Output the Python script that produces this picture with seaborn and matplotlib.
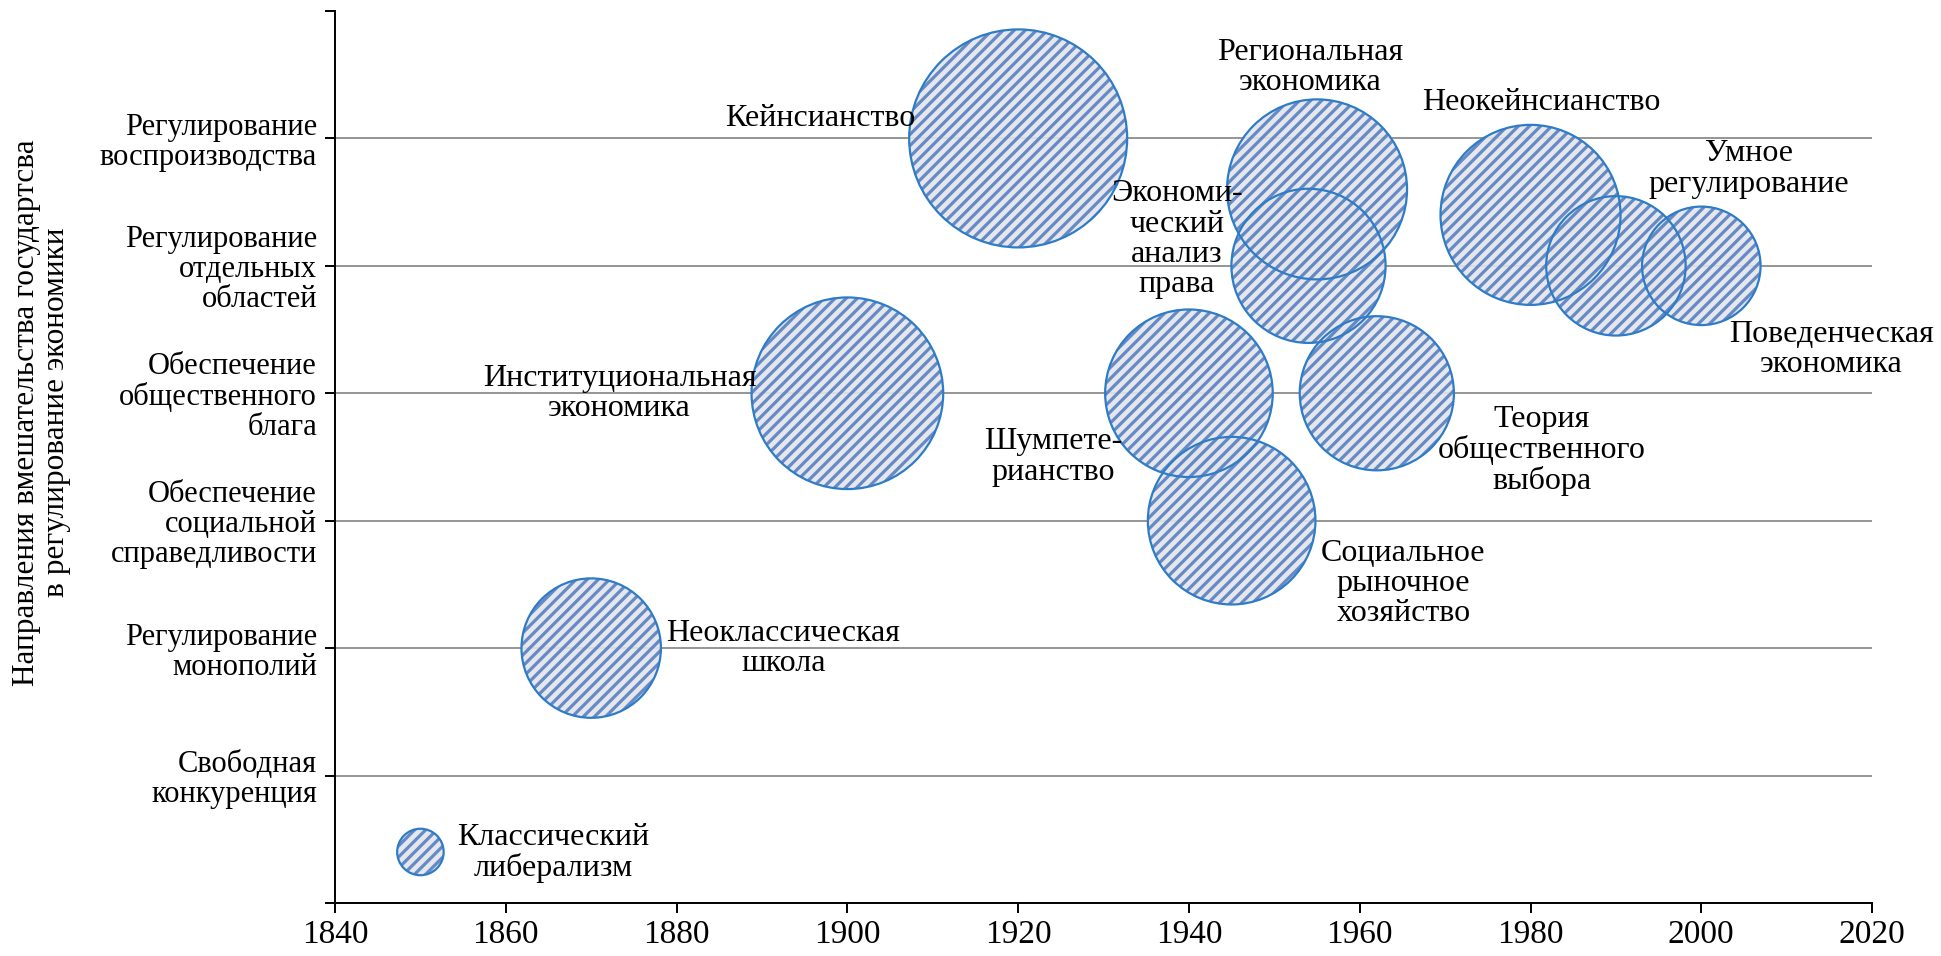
import matplotlib
matplotlib.use("Agg")
import matplotlib.pyplot as plt
import seaborn as sns
import pandas as pd

# schools of economic thought: year of origin, level of state intervention, bubble size
schools = ["Классический\nлиберализм", "Неоклассическая\nшкола", "Институциональная\nэкономика",
           "Кейнсианство", "Шумпете-\nрианство", "Социальное\nрыночное\nхозяйство",
           "Экономи-\nческий\nанализ\nправа", "Региональная\nэкономика",
           "Теория\nобщественного\nвыбора", "Неокейнсианство", "Умное\nрегулирование",
           "Поведенческая\nэкономика"]
years = [1850, 1870, 1900, 1920, 1940, 1945, 1954, 1955, 1962, 1980, 1990, 2000]
levels = [0.4, 2, 4, 6, 4, 3, 5, 5.6, 4, 5.4, 5, 5]
bubble = [1, 9, 17, 22, 13, 13, 11, 15, 11, 15, 9, 6.5]

level_labels = ["", "Свободная\nконкуренция", "Регулирование\nмонополий",
                "Обеспечение\nсоциальной\nсправедливости", "Обеспечение\nобщественного\nблага",
                "Регулирование\nотдельных\nобластей", "Регулирование\nвоспроизводства", ""]
x_ticks = [1840, 1860, 1880, 1900, 1920, 1940, 1960, 1980, 2000, 2020]

# where each school's caption sits (layout only)
label_pos = [(1865.6, 0.39), (1892.5, 2.0), (1873.3, 4.0), (1896.8, 6.16), (1924.1, 3.5),
             (1965.1, 2.51), (1938.6, 5.21), (1954.2, 6.56), (1981.3, 3.55), (1981.3, 6.28),
             (2005.6, 5.76), (2015.2, 4.34)]

df = pd.DataFrame({"school": schools, "year": years, "level": levels, "size": bubble})

sns.set_style("white")
plt.rcParams["font.family"] = ["Liberation Serif", "DejaVu Serif"]
for key in ["text.color", "axes.labelcolor", "xtick.color", "ytick.color"]:
    plt.rcParams[key] = "black"
stripe = "#5780c2"
plt.rcParams["hatch.color"] = stripe
plt.rcParams["hatch.linewidth"] = 2.3

fig = plt.figure(figsize=(19.41, 9.56), dpi=100)
ax = fig.add_axes([0.1726, 0.0555, 0.7919, 0.933])

# horizontal grid at each labelled level
for lv in range(1, len(level_labels) - 1):
    ax.axhline(lv, color="#8c8c8c", lw=1.3, zorder=0)

max_area = (2 * 109 * 0.72) ** 2
sns.scatterplot(data=df, x="year", y="level", size="size", sizes=(0, max_area),
                size_norm=(0, max(bubble)), facecolor="#e3e5ea", edgecolor=stripe,
                linewidth=0, hatch="///", alpha=0.9, legend=False, ax=ax, zorder=2)
sns.scatterplot(data=df, x="year", y="level", size="size", sizes=(0, max_area),
                size_norm=(0, max(bubble)), facecolor="none", edgecolor="#2f7cc6",
                linewidth=1.6, legend=False, ax=ax, zorder=3)

for name, (lx, ly) in zip(schools, label_pos):
    ax.text(lx, ly, name, ha="center", va="center", fontsize=23,
            linespacing=1.05, zorder=4, clip_on=False)

ax.set_xlim(1840, 2020)
ax.set_ylim(0, 7)
ax.set_xticks(x_ticks)
ax.set_xticklabels([str(t) for t in x_ticks], fontsize=24)
ax.set_yticks(range(len(level_labels)))
ax.set_yticklabels(level_labels, fontsize=22, linespacing=1.05)
ax.tick_params(axis="both", direction="out", length=7, width=1.4, color="black",
               left=True, bottom=True)
ax.tick_params(axis="y", pad=6)
ax.tick_params(axis="x", pad=5)
ax.set_xlabel("")
ax.set_ylabel("Направления вмешательства государтсва\nв регулирование экономики",
              fontsize=22.5, linespacing=1.05)
ax.yaxis.set_label_coords(-0.172, 0.55)

sns.despine(ax=ax)
for side in ["left", "bottom"]:
    ax.spines[side].set_color("black")
    ax.spines[side].set_linewidth(1.4)

plt.savefig("out.png", dpi=100)
